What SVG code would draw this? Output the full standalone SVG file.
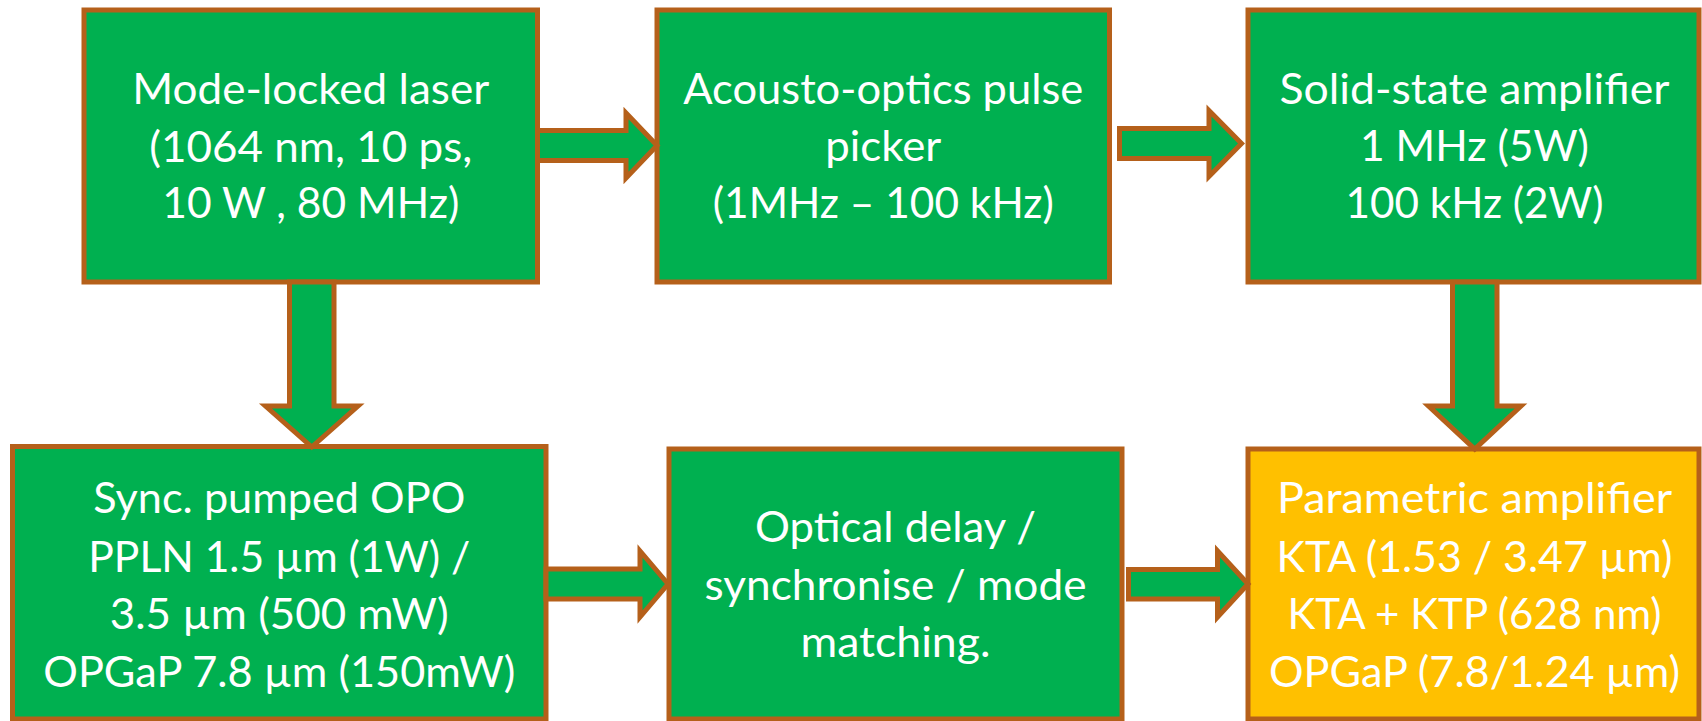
<svg xmlns="http://www.w3.org/2000/svg" width="1702" height="721" viewBox="0 0 1702 721">
<style>
.box{fill:#00B050;stroke:#B5601A;stroke-width:5}
.box.alt{fill:#FFC000}
.arr{fill:#00B050;stroke:#B5601A;stroke-width:5;stroke-linejoin:miter}
text{font-family:Lato,"Open Sans","Liberation Sans",sans-serif;font-size:42px;fill:#FFFFFF;text-anchor:middle}
</style>
<rect width="1702" height="721" fill="#FFFFFF"/>
<g id="node-laser">
<rect class="box" x="84" y="10" width="453.5" height="272"/>
<text x="310.75" y="104" textLength="357" lengthAdjust="spacingAndGlyphs">Mode-locked laser</text>
<text x="310.75" y="161.7" textLength="323" lengthAdjust="spacingAndGlyphs">(1064 nm, 10 ps,</text>
<text x="310.75" y="218.3" textLength="297" lengthAdjust="spacingAndGlyphs">10 W , 80 MHz)</text>
</g>
<g id="node-picker">
<rect class="box" x="657" y="10" width="452.5" height="272"/>
<text x="883.25" y="104" textLength="400" lengthAdjust="spacingAndGlyphs">Acousto-optics pulse</text>
<text x="883.25" y="160.7" textLength="116" lengthAdjust="spacingAndGlyphs">picker</text>
<text x="883.25" y="218.3" textLength="341" lengthAdjust="spacingAndGlyphs">(1MHz – 100 kHz)</text>
</g>
<g id="node-solid">
<rect class="box" x="1248" y="10" width="451" height="272"/>
<text x="1474.5" y="104" textLength="390" lengthAdjust="spacingAndGlyphs">Solid-state amplifier</text>
<text x="1474.5" y="160.7" textLength="229" lengthAdjust="spacingAndGlyphs">1 MHz (5W)</text>
<text x="1474.5" y="218.3" textLength="258" lengthAdjust="spacingAndGlyphs">100 kHz (2W)</text>
</g>
<g id="node-opo">
<rect class="box" x="12.5" y="446.5" width="533.5" height="272.5"/>
<text x="279.25" y="512.7" textLength="372" lengthAdjust="spacingAndGlyphs">Sync. pumped OPO</text>
<text x="279.25" y="571.7" textLength="382" lengthAdjust="spacingAndGlyphs">PPLN 1.5 µm (1W) /</text>
<text x="279.25" y="629.3" textLength="339" lengthAdjust="spacingAndGlyphs">3.5 µm (500 mW)</text>
<text x="279.25" y="686.7" textLength="472" lengthAdjust="spacingAndGlyphs">OPGaP 7.8 µm (150mW)</text>
</g>
<g id="node-delay">
<rect class="box" x="669" y="449" width="453" height="270"/>
<text x="895.5" y="541.7" textLength="281" lengthAdjust="spacingAndGlyphs">Optical delay /</text>
<text x="895.5" y="600" textLength="382" lengthAdjust="spacingAndGlyphs">synchronise / mode</text>
<text x="895.5" y="656.7" textLength="190" lengthAdjust="spacingAndGlyphs">matching.</text>
</g>
<g id="node-opa">
<rect class="box alt" x="1248" y="449" width="451" height="270"/>
<text x="1474.5" y="512.7" textLength="395" lengthAdjust="spacingAndGlyphs">Parametric amplifier</text>
<text x="1474.5" y="571.7" textLength="396" lengthAdjust="spacingAndGlyphs">KTA (1.53 / 3.47 µm)</text>
<text x="1474.5" y="629.3" textLength="374" lengthAdjust="spacingAndGlyphs">KTA + KTP (628 nm)</text>
<text x="1474.5" y="686.7" textLength="411" lengthAdjust="spacingAndGlyphs">OPGaP (7.8/1.24 µm)</text>
</g>
<g id="connectors">
<polygon class="arr" points="537.5,130.5 626,130.5 626,113 657,145.5 626,178 626,160.5 537.5,160.5"/>
<polygon class="arr" points="1119.5,128.5 1209,128.5 1209,110.5 1241.5,143.5 1209,176.5 1209,158.5 1119.5,158.5"/>
<polygon class="arr" points="289.5,282 334,282 334,406 358,406 311.75,447 265.5,406 289.5,406"/>
<polygon class="arr" points="1452.5,282 1497,282 1497,406 1521,406 1474.75,449 1428.5,406 1452.5,406"/>
<polygon class="arr" points="546,569 640,569 640,551 668,584 640,617 640,599 546,599"/>
<polygon class="arr" points="1128.5,569.5 1217.5,569.5 1217.5,551 1248,584 1217.5,617 1217.5,599 1128.5,599"/>
</g>
</svg>
